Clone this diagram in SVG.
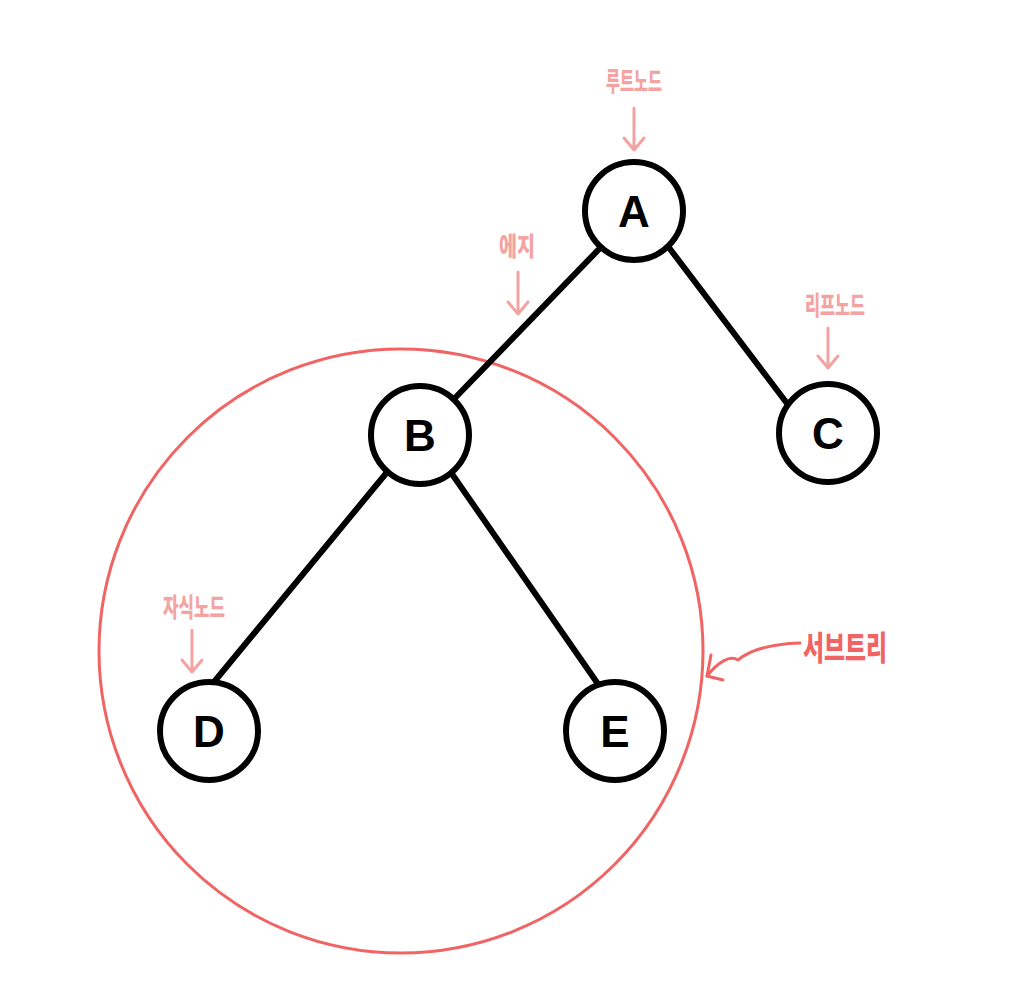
<svg xmlns="http://www.w3.org/2000/svg" width="1011" height="1000" viewBox="0 0 1011 1000">
<style>
.node circle{fill:#fff;stroke:#000;stroke-width:6}
.node text{font-family:"Liberation Sans","Noto Sans",sans-serif;font-weight:bold;font-size:44px;fill:#000;text-anchor:middle;dominant-baseline:central}
.edge{stroke:#000;stroke-width:6;stroke-linecap:round;fill:none}
.lbl{font-family:"Noto Sans CJK KR",sans-serif;font-weight:900;font-size:26px;fill:#f4a3a3;text-anchor:middle}
.arr{stroke:#f4a3a3;stroke-width:3;fill:none;stroke-linecap:round;stroke-linejoin:round}
.sub{stroke:#f06464;stroke-width:3;fill:none;stroke-linecap:round;stroke-linejoin:round}
</style>
<rect width="1011" height="1000" fill="#fff"/>
<g id="subtree">
<circle cx="401" cy="651" r="302" class="sub"/>
<path class="sub" d="M800,643 C770,644 750,650 738,660 C730,655 718,662 707,676"/>
<path class="sub" d="M711,655 L707,676 L723,680"/>
<text x="845" y="660" font-family="Noto Sans CJK KR,sans-serif" font-weight="900" font-size="33" fill="#f06464" text-anchor="middle" textLength="84" lengthAdjust="spacingAndGlyphs">서브트리</text>
</g>
<g id="connectors">
<line class="edge" x1="602" y1="246" x2="454" y2="399"/>
<line class="edge" x1="667" y1="245" x2="789" y2="406"/>
<line class="edge" x1="388" y1="471" x2="214" y2="682"/>
<line class="edge" x1="452" y1="474" x2="598" y2="684"/>
</g>
<g id="annotations">
<text class="lbl" x="634" y="91" textLength="56" lengthAdjust="spacingAndGlyphs">루트노드</text>
<path class="arr" d="M634,108 L634,150 M624,138 L634,150 L644,138"/>
<text class="lbl" x="517" y="256" textLength="36" lengthAdjust="spacingAndGlyphs">에지</text>
<path class="arr" d="M518,272 L518,314 M508,302 L518,314 L528,302"/>
<text class="lbl" x="835" y="315" textLength="60" lengthAdjust="spacingAndGlyphs">리프노드</text>
<path class="arr" d="M828,328 L828,368 M818,356 L828,368 L838,356"/>
<text class="lbl" x="194" y="617" textLength="62" lengthAdjust="spacingAndGlyphs">자식노드</text>
<path class="arr" d="M192,630 L192,672 M182,660 L192,672 L202,660"/>
</g>
<g id="node-A" class="node"><circle cx="634" cy="211" r="49"/><text x="634" y="211">A</text></g>
<g id="node-B" class="node"><circle cx="420" cy="435" r="49"/><text x="420" y="435">B</text></g>
<g id="node-C" class="node"><circle cx="828" cy="433" r="49"/><text x="828" y="433">C</text></g>
<g id="node-D" class="node"><circle cx="209" cy="731" r="49"/><text x="209" y="731">D</text></g>
<g id="node-E" class="node"><circle cx="615" cy="731" r="49"/><text x="615" y="731">E</text></g>
</svg>
